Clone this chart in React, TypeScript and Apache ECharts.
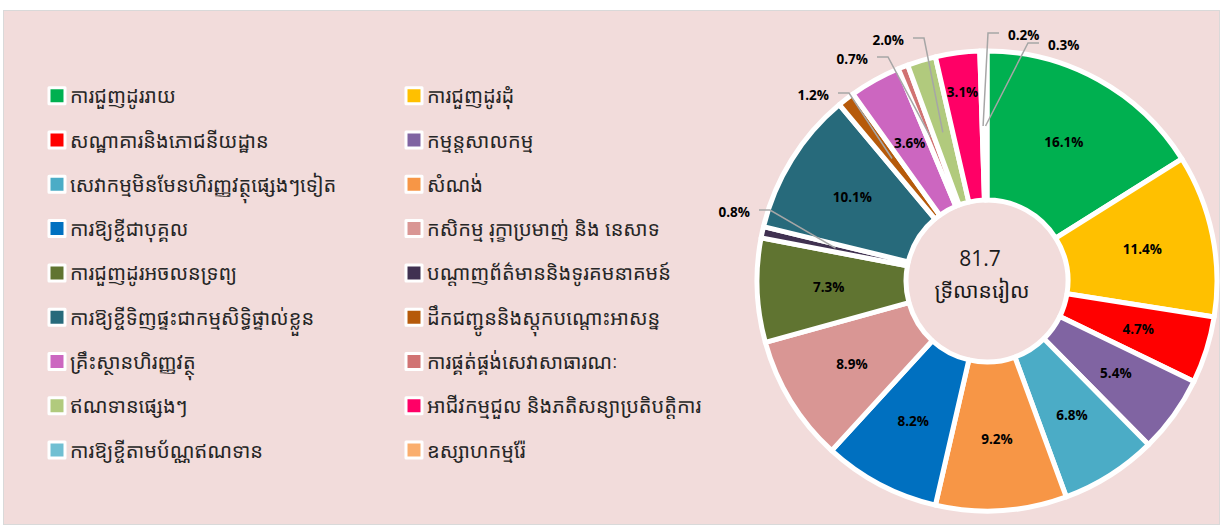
import React, { useEffect, useRef } from "react";
import * as echarts from "echarts";

// ---- Data ----
const categories: string[] = [
  "ការជួញដូររាយ",
  "ការជួញដូរដុំ",
  "សណ្ឋាគារនិងភោជនីយដ្ឋាន",
  "កម្មន្តសាលកម្ម",
  "សេវាកម្មមិនមែនហិរញ្ញវត្ថុផ្សេងៗទៀត",
  "សំណង់",
  "ការឱ្យខ្ចីជាបុគ្គល",
  "កសិកម្ម រុក្ខាប្រមាញ់ និង នេសាទ",
  "ការជួញដូរអចលនទ្រព្យ",
  "បណ្តាញព័ត៌មាននិងទូរគមនាគមន៍",
  "ការឱ្យខ្ចីទិញផ្ទះជាកម្មសិទ្ធិផ្ទាល់ខ្លួន",
  "ដឹកជញ្ជូននិងស្តុកបណ្តោះអាសន្ន",
  "គ្រឹះស្ថានហិរញ្ញវត្ថុ",
  "ការផ្គត់ផ្គង់សេវាសាធារណៈ",
  "ឥណទានផ្សេងៗ",
  "អាជីវកម្មជួល និងភតិសន្យាប្រតិបត្តិការ",
  "ការឱ្យខ្ចីតាមប័ណ្ណឥណទាន",
  "ឧស្សាហកម្មរ៉ែ",
];
const shares: number[] = [
  16.1, 11.4, 4.7, 5.4, 6.8, 9.2, 8.2, 8.9, 7.3, 0.8, 10.1, 1.2, 3.6, 0.7, 2.0, 3.1, 0.2, 0.3,
];
const totalValue = "81.7";
const totalUnit = "ទ្រីលានរៀល";

// ---- Styles ----
const colors: string[] = [
  "#00B050", "#FFC000", "#FF0000", "#8064A2", "#4BACC6", "#F79646",
  "#0070C0", "#D99694", "#607431", "#403151", "#276A7B", "#B65A0A",
  "#CC66C0", "#D17373", "#B1CA7D", "#FF0066", "#70BFD2", "#FAAE6E",
];
const CX = 987;
const CY = 281;
const RADIUS: [number, number] = [81, 230];
const KHMER = "'Khmer OS Siemreap', 'Khmer OS', 'Noto Sans Khmer', 'Noto Sans', sans-serif";
const NUMFONT = "'Open Sans', 'Noto Sans', sans-serif";

// outside label placement (text edge x, text centre y, direction of leader)
const outsideLabels: Record<number, { tx: number; ty: number; dir: number }> = {
  9: { tx: 750, ty: 212, dir: 1 },
  11: { tx: 829, ty: 95, dir: 1 },
  13: { tx: 868, ty: 59, dir: 1 },
  14: { tx: 904, ty: 40, dir: 1 },
  16: { tx: 1008, ty: 35, dir: -1 },
  17: { tx: 1048, ty: 45, dir: -1 },
};
const radialShift: Record<number, number> = { 15: 32 };

const labelText = (p: any) => `${Number(p.value).toFixed(1)}%`;
const labelFont = {
  color: "#000000",
  fontWeight: "bold" as const,
  fontSize: 13.5,
  fontFamily: NUMFONT,
};

export default function App() {
  const ref = useRef<HTMLDivElement>(null);

  useEffect(() => {
    if (!ref.current) return;
    const chart = echarts.init(ref.current, undefined, { renderer: "svg" });

    const mainData = categories.map((name, i) => ({
      name,
      value: shares[i],
      itemStyle: { color: colors[i] },
      label: { show: !outsideLabels[i] },
    }));

    const overlayData = categories.map((name, i) => {
      const isOut = !!outsideLabels[i];
      return {
        name,
        value: shares[i],
        itemStyle: { color: "rgba(0,0,0,0)" },
        label: { show: isOut },
        labelLine: { show: isOut },
      };
    });

    const legendBase = {
      orient: "vertical",
      top: 83.7,
      itemGap: 20.3,
      itemWidth: 16,
      itemHeight: 16,
      icon: "rect",
      padding: 0,
      selectedMode: false,
      itemStyle: { borderColor: "#ffffff", borderWidth: 3 },
      textStyle: { fontSize: 20, lineHeight: 24, color: "#262626", fontFamily: KHMER },
    };

    chart.setOption({
      animation: false,
      backgroundColor: "transparent",
      legend: [
        { ...legendBase, left: 47.5, data: categories.filter((_, i) => i % 2 === 0) },
        { ...legendBase, left: 404.5, data: categories.filter((_, i) => i % 2 === 1) },
      ],
      graphic: [
        {
          type: "text",
          x: 980,
          y: 258,
          style: {
            text: totalValue,
            fontSize: 21,
            fill: "#1a1a1a",
            align: "center",
            verticalAlign: "middle",
            fontFamily: NUMFONT,
          },
        },
        {
          type: "text",
          x: 982,
          y: 290,
          style: {
            text: totalUnit,
            fontSize: 21,
            fill: "#1a1a1a",
            align: "center",
            verticalAlign: "middle",
            fontFamily: KHMER,
          },
        },
      ],
      series: [
        {
          type: "pie",
          center: [CX, CY],
          radius: RADIUS,
          startAngle: 90,
          clockwise: true,
          avoidLabelOverlap: false,
          emphasis: { disabled: true },
          itemStyle: { borderColor: "#ffffff", borderWidth: 5 },
          label: { position: "inside", formatter: labelText, ...labelFont },
          labelLine: { show: false },
          labelLayout: (params: any) => {
            const s = radialShift[params.dataIndex];
            if (s) {
              const lr = params.labelRect;
              const mx = lr.x + lr.width / 2 - CX;
              const my = lr.y + lr.height / 2 - CY;
              const len = Math.sqrt(mx * mx + my * my) || 1;
              return { dx: (mx / len) * s, dy: (my / len) * s };
            }
            return {};
          },
          data: mainData,
        },
        {
          type: "pie",
          z: 5,
          silent: true,
          center: [CX, CY],
          radius: RADIUS,
          startAngle: 90,
          clockwise: true,
          avoidLabelOverlap: false,
          emphasis: { disabled: true },
          itemStyle: { borderWidth: 0 },
          label: { position: "outside", formatter: labelText, ...labelFont },
          labelLine: { lineStyle: { color: "#A6A6A6", width: 1.5 } },
          labelLayout: (params: any) => {
            const o = outsideLabels[params.dataIndex];
            if (!o) return {};
            const p0 = params.labelLinePoints ? params.labelLinePoints[0] : [CX, CY - 1];
            const vx = p0[0] - CX;
            const vy = p0[1] - CY;
            const len = Math.sqrt(vx * vx + vy * vy) || 1;
            const r = 155;
            const start = [CX + (vx / len) * r, CY + (vy / len) * r];
            const ly = o.ty - 2;
            return {
              x: o.tx,
              y: o.ty,
              align: o.dir > 0 ? "right" : "left",
              verticalAlign: "middle",
              labelLinePoints: [start, [o.tx + 20 * o.dir, ly], [o.tx + 9 * o.dir, ly]],
            };
          },
          data: overlayData,
        },
      ],
    });

    return () => chart.dispose();
  }, []);

  return (
    <div style={{ position: "fixed", left: 0, top: 0, width: 1220, height: 525, background: "#ffffff" }}>
      <div
        style={{
          position: "absolute",
          left: 3,
          top: 10,
          right: 0,
          bottom: 0,
          background: "#F2DCDB",
          border: "1px solid #D9D9D9",
        }}
      />
      <div ref={ref} style={{ position: "absolute", left: 0, top: 0, width: 1220, height: 525 }} />
    </div>
  );
}
